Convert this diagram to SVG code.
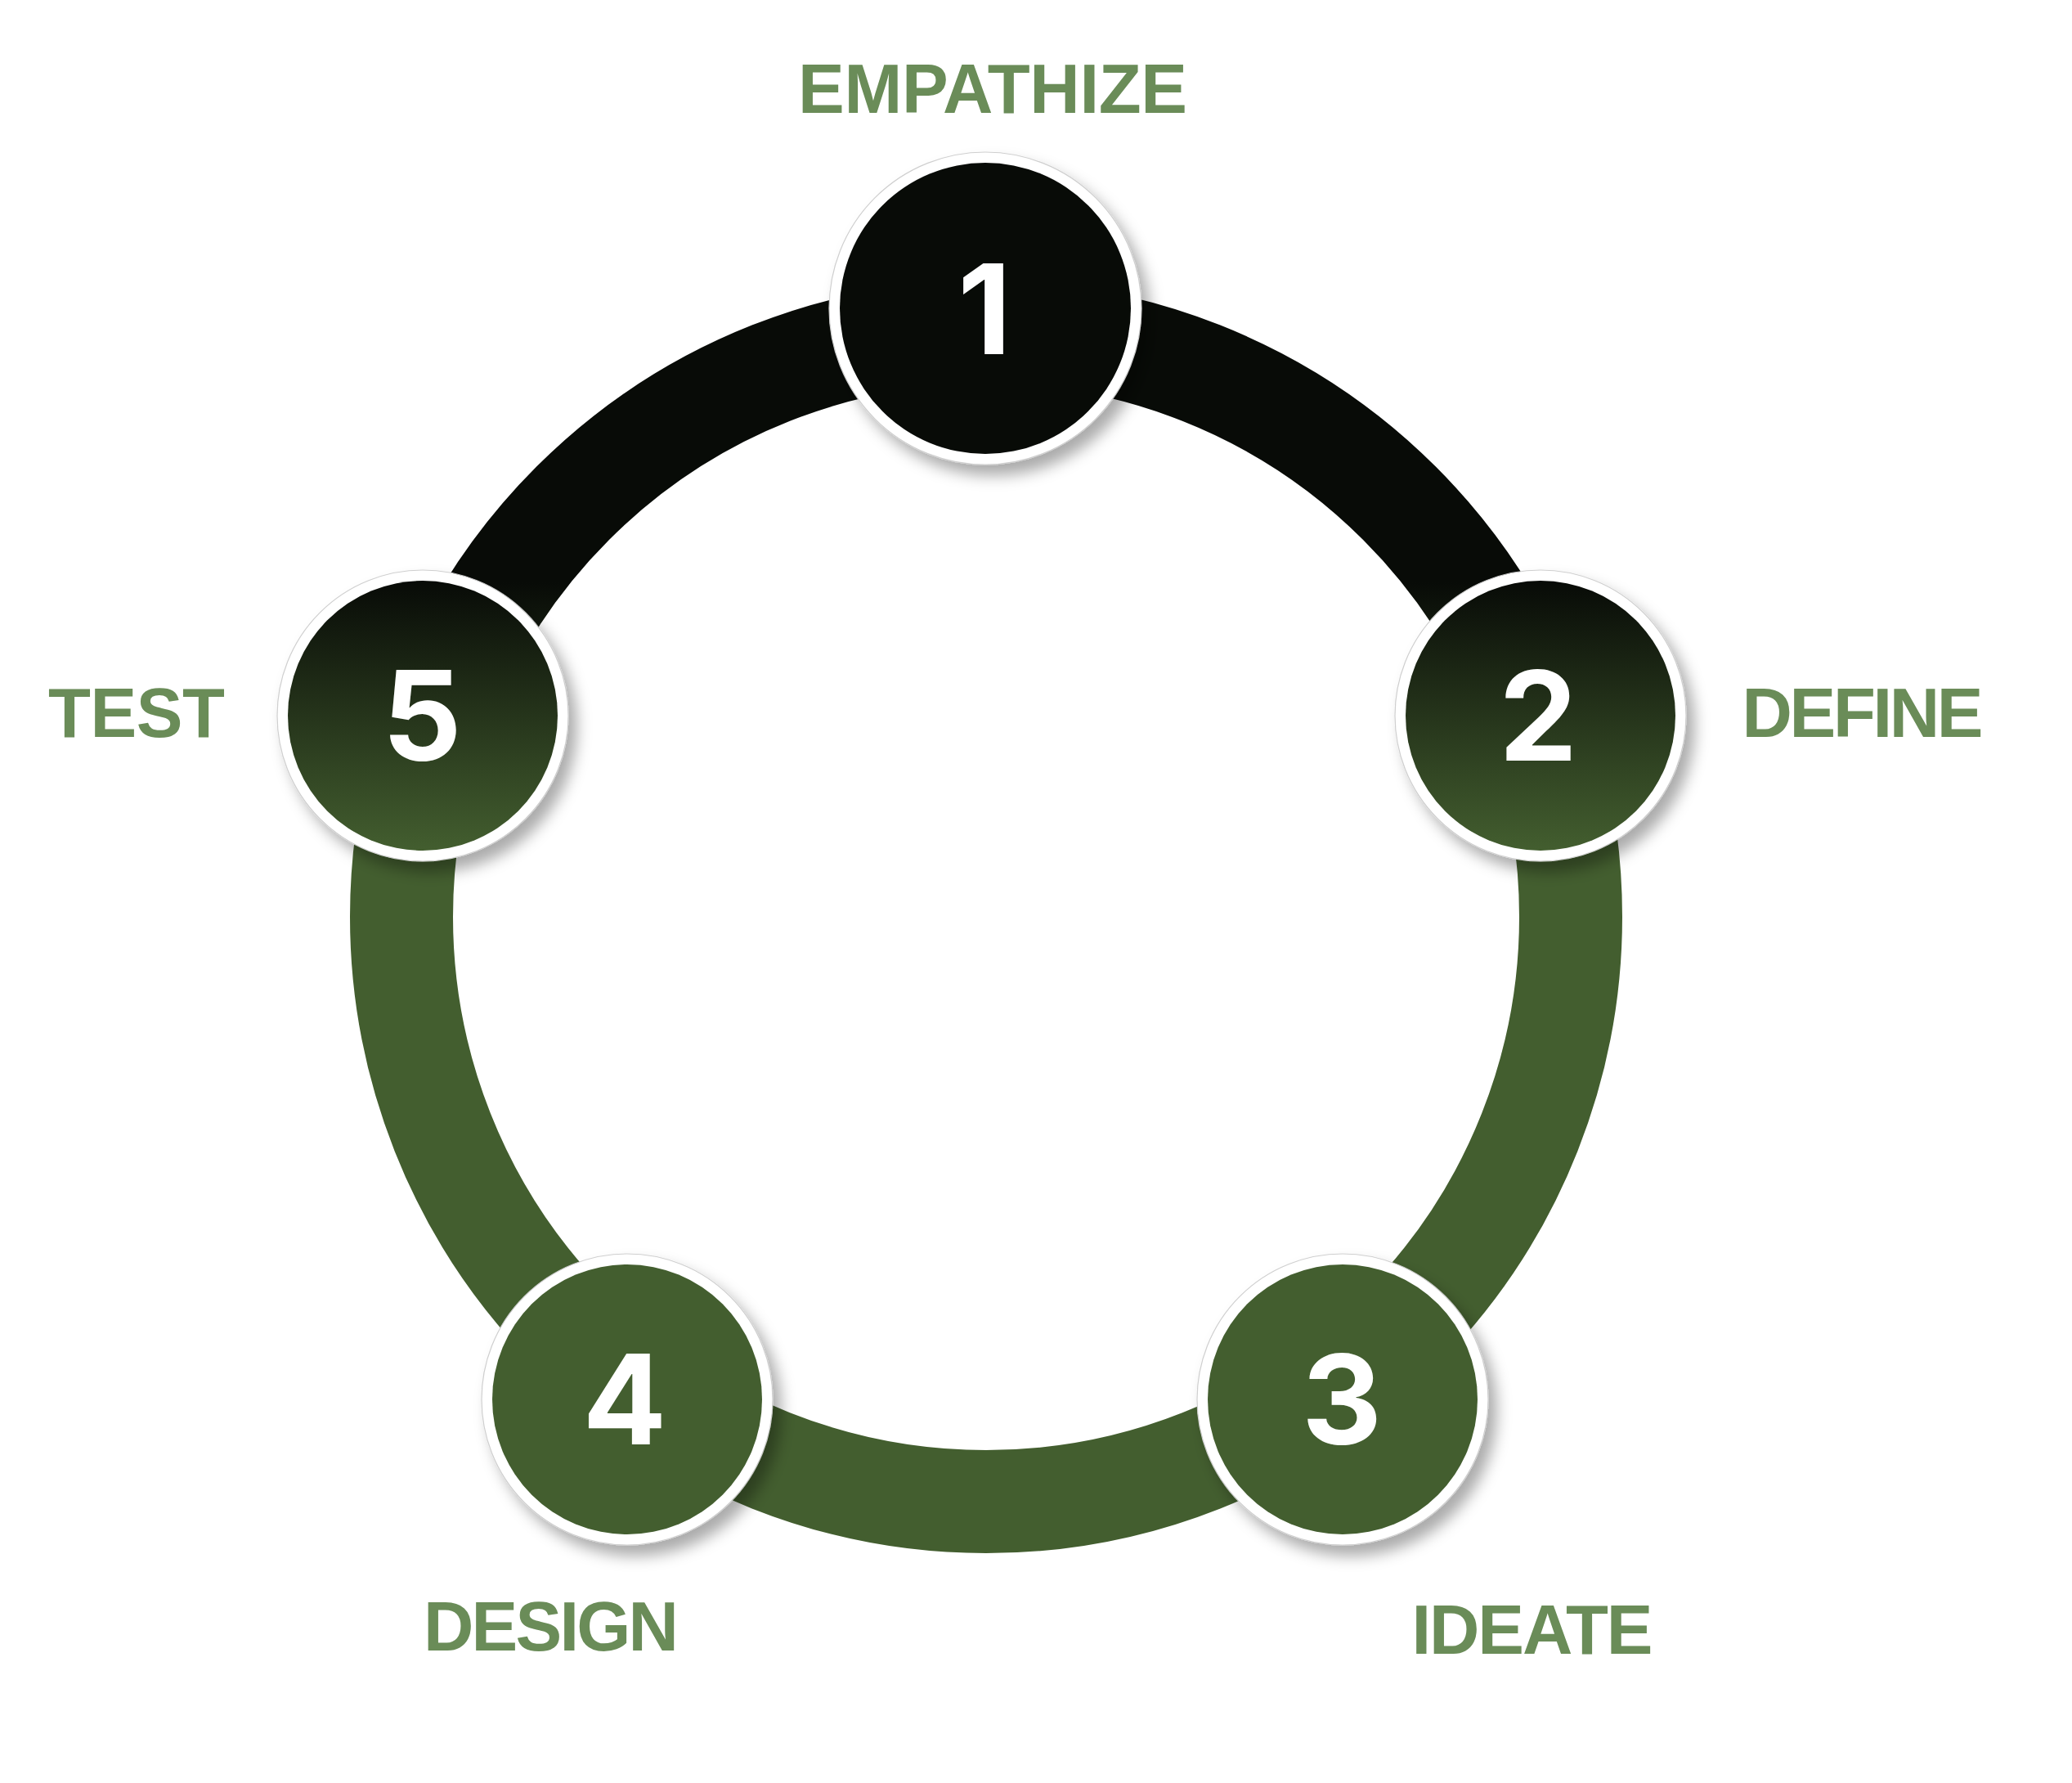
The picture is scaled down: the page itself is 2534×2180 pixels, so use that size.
<svg xmlns="http://www.w3.org/2000/svg" width="2534" height="2180" viewBox="0 0 2534 2180">
  <defs>
    <linearGradient id="g" gradientUnits="userSpaceOnUse" x1="0" y1="712" x2="0" y2="1040">
      <stop offset="0" stop-color="#080b07"/>
      <stop offset="1" stop-color="#435e2f"/>
    </linearGradient>
    <filter id="sh" x="-20%" y="-20%" width="145%" height="145%">
      <feDropShadow dx="10" dy="13" stdDeviation="9" flood-color="#000" flood-opacity="0.33"/>
    </filter>
  </defs>
  <style>
    .ring { fill: none; stroke: url(#g); stroke-width: 126; }
    .rim { fill: #ffffff; stroke: #cfcfcf; stroke-width: 1.2; filter: url(#sh); }
    .core { fill: url(#g); }
    .num { font-family: Inter, "Liberation Sans", Arial, sans-serif; font-weight: 700; font-size: 152px; fill: #ffffff; text-anchor: middle; }
    .lbl { font-family: "Liberation Sans", Arial, sans-serif; font-weight: 700; font-size: 85px; fill: #6a8c58; text-anchor: middle; }
  </style>
  <rect width="2534" height="2180" fill="#ffffff"/>
  <g id="connectors">
    <circle class="ring" cx="1206" cy="1121" r="715"/>
  </g>
  <g id="node1">
    <circle class="rim" cx="1205" cy="377" r="191"/>
    <circle class="core" cx="1205" cy="377" r="178"/>
    <text class="num" x="1204" y="433">1</text>
    <text class="lbl" x="1214" y="138" textLength="476" lengthAdjust="spacing">EMPATHIZE</text>
  </g>
  <g id="node2">
    <circle class="rim" cx="1884" cy="875" r="178"/>
    <circle class="core" cx="1884" cy="875" r="165"/>
    <text class="num" x="1881" y="930">2</text>
    <text class="lbl" x="2278" y="901" textLength="295" lengthAdjust="spacing">DEFINE</text>
  </g>
  <g id="node3">
    <circle class="rim" cx="1642" cy="1711" r="178"/>
    <circle class="core" cx="1642" cy="1711" r="165"/>
    <text class="num" x="1641" y="1766">3</text>
    <text class="lbl" x="1874" y="2022" textLength="295" lengthAdjust="spacing">IDEATE</text>
  </g>
  <g id="node4">
    <circle class="rim" cx="767" cy="1711" r="178"/>
    <circle class="core" cx="767" cy="1711" r="165"/>
    <text class="num" x="764" y="1766">4</text>
    <text class="lbl" x="674" y="2018" textLength="312" lengthAdjust="spacing">DESIGN</text>
  </g>
  <g id="node5">
    <circle class="rim" cx="517" cy="875" r="178"/>
    <circle class="core" cx="517" cy="875" r="165"/>
    <text class="num" x="516" y="930">5</text>
    <text class="lbl" x="167" y="901" textLength="216" lengthAdjust="spacing">TEST</text>
  </g>
</svg>
